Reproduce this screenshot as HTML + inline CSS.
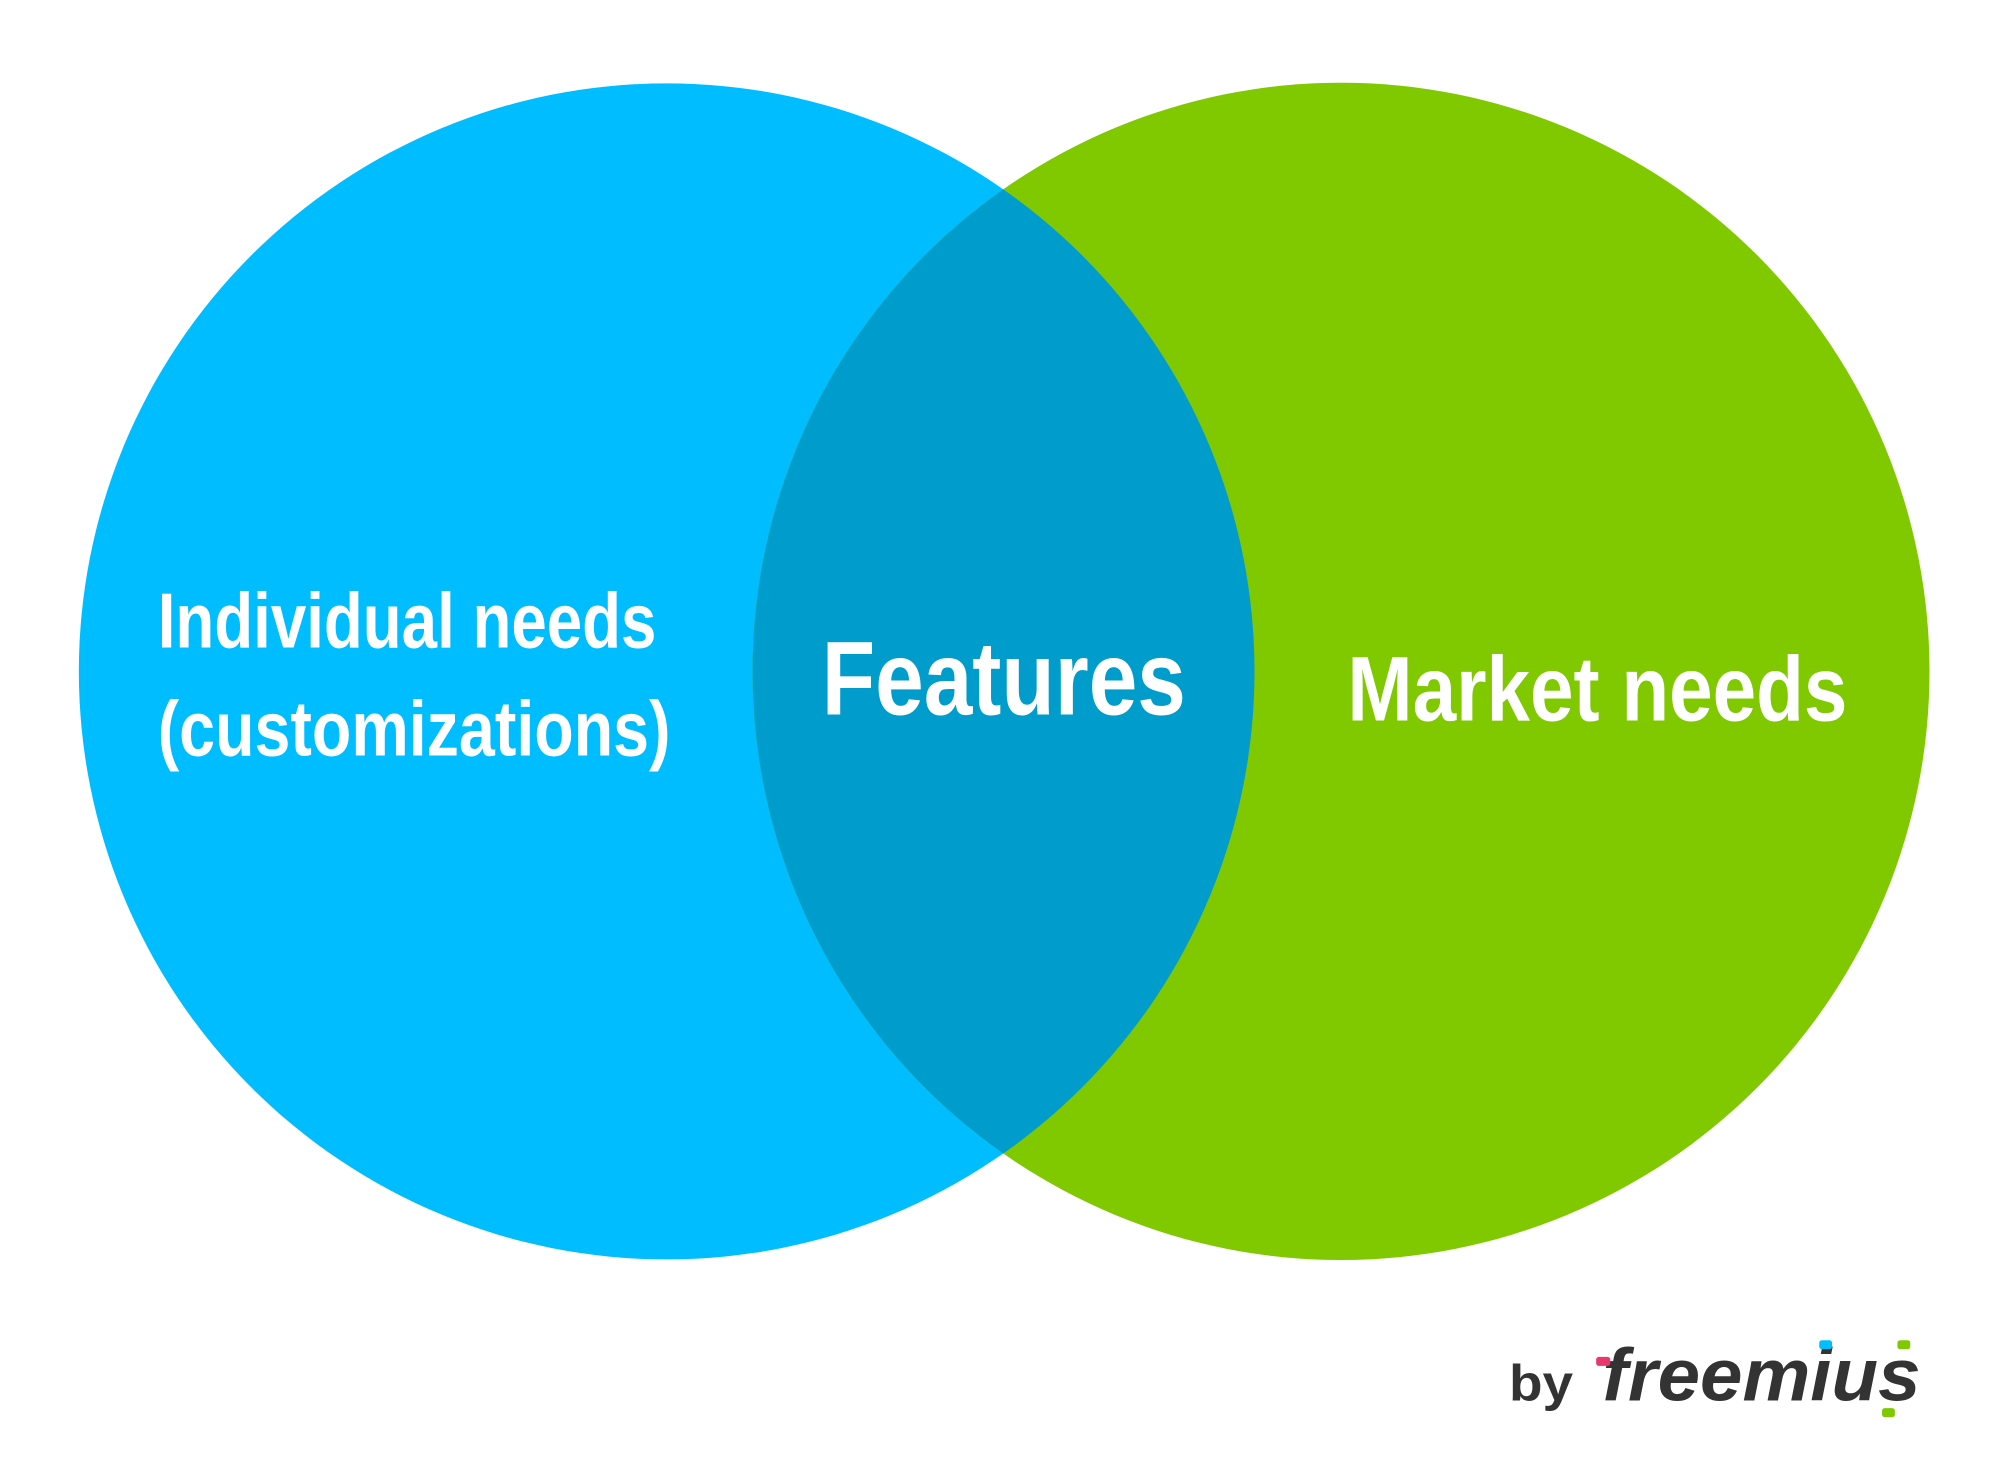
<!DOCTYPE html>
<html><head><meta charset="utf-8"><style>
html,body{margin:0;padding:0;background:#fff;}
svg{display:block;}
text{font-family:"Liberation Sans",sans-serif;font-weight:bold;fill:#fff;}
</style></head><body>
<svg width="2000" height="1480" viewBox="0 0 1560 1154" preserveAspectRatio="none" xmlns="http://www.w3.org/2000/svg">
<defs><clipPath id="lc"><circle cx="520" cy="523.5" r="458.5"/></clipPath></defs>
<rect width="1560" height="1154" fill="#fff"/>
<circle cx="520" cy="523.5" r="458.5" fill="#00bdff"/>
<circle cx="1046" cy="523.5" r="459" fill="#80c800"/>
<circle cx="1046" cy="523.5" r="459" fill="#009ccc" clip-path="url(#lc)"/>
<text x="123" y="505" font-size="61" textLength="389" lengthAdjust="spacingAndGlyphs">Individual needs</text>
<text x="123" y="589" font-size="61" textLength="400" lengthAdjust="spacingAndGlyphs">(customizations)</text>
<text x="641" y="557" font-size="82" textLength="284" lengthAdjust="spacingAndGlyphs">Features</text>
<text x="1051" y="562" font-size="72" textLength="390" lengthAdjust="spacingAndGlyphs">Market needs</text>
<text x="1177" y="1092" font-size="40" textLength="50" lengthAdjust="spacingAndGlyphs" style="fill:#333">by</text>
<text x="1250" y="1092" font-size="58" font-style="italic" textLength="248" lengthAdjust="spacingAndGlyphs" style="fill:#333;font-weight:900">freemius</text>
<rect x="1245" y="1058" width="11" height="7" rx="2" fill="#e8386d"/>
<rect x="1419" y="1045" width="10" height="7" rx="2" fill="#00bdff"/>
<rect x="1480" y="1045" width="10" height="7" rx="2" fill="#80c800"/>
<rect x="1468" y="1098" width="10" height="7" rx="2" fill="#80c800"/>
</svg>
</body></html>
